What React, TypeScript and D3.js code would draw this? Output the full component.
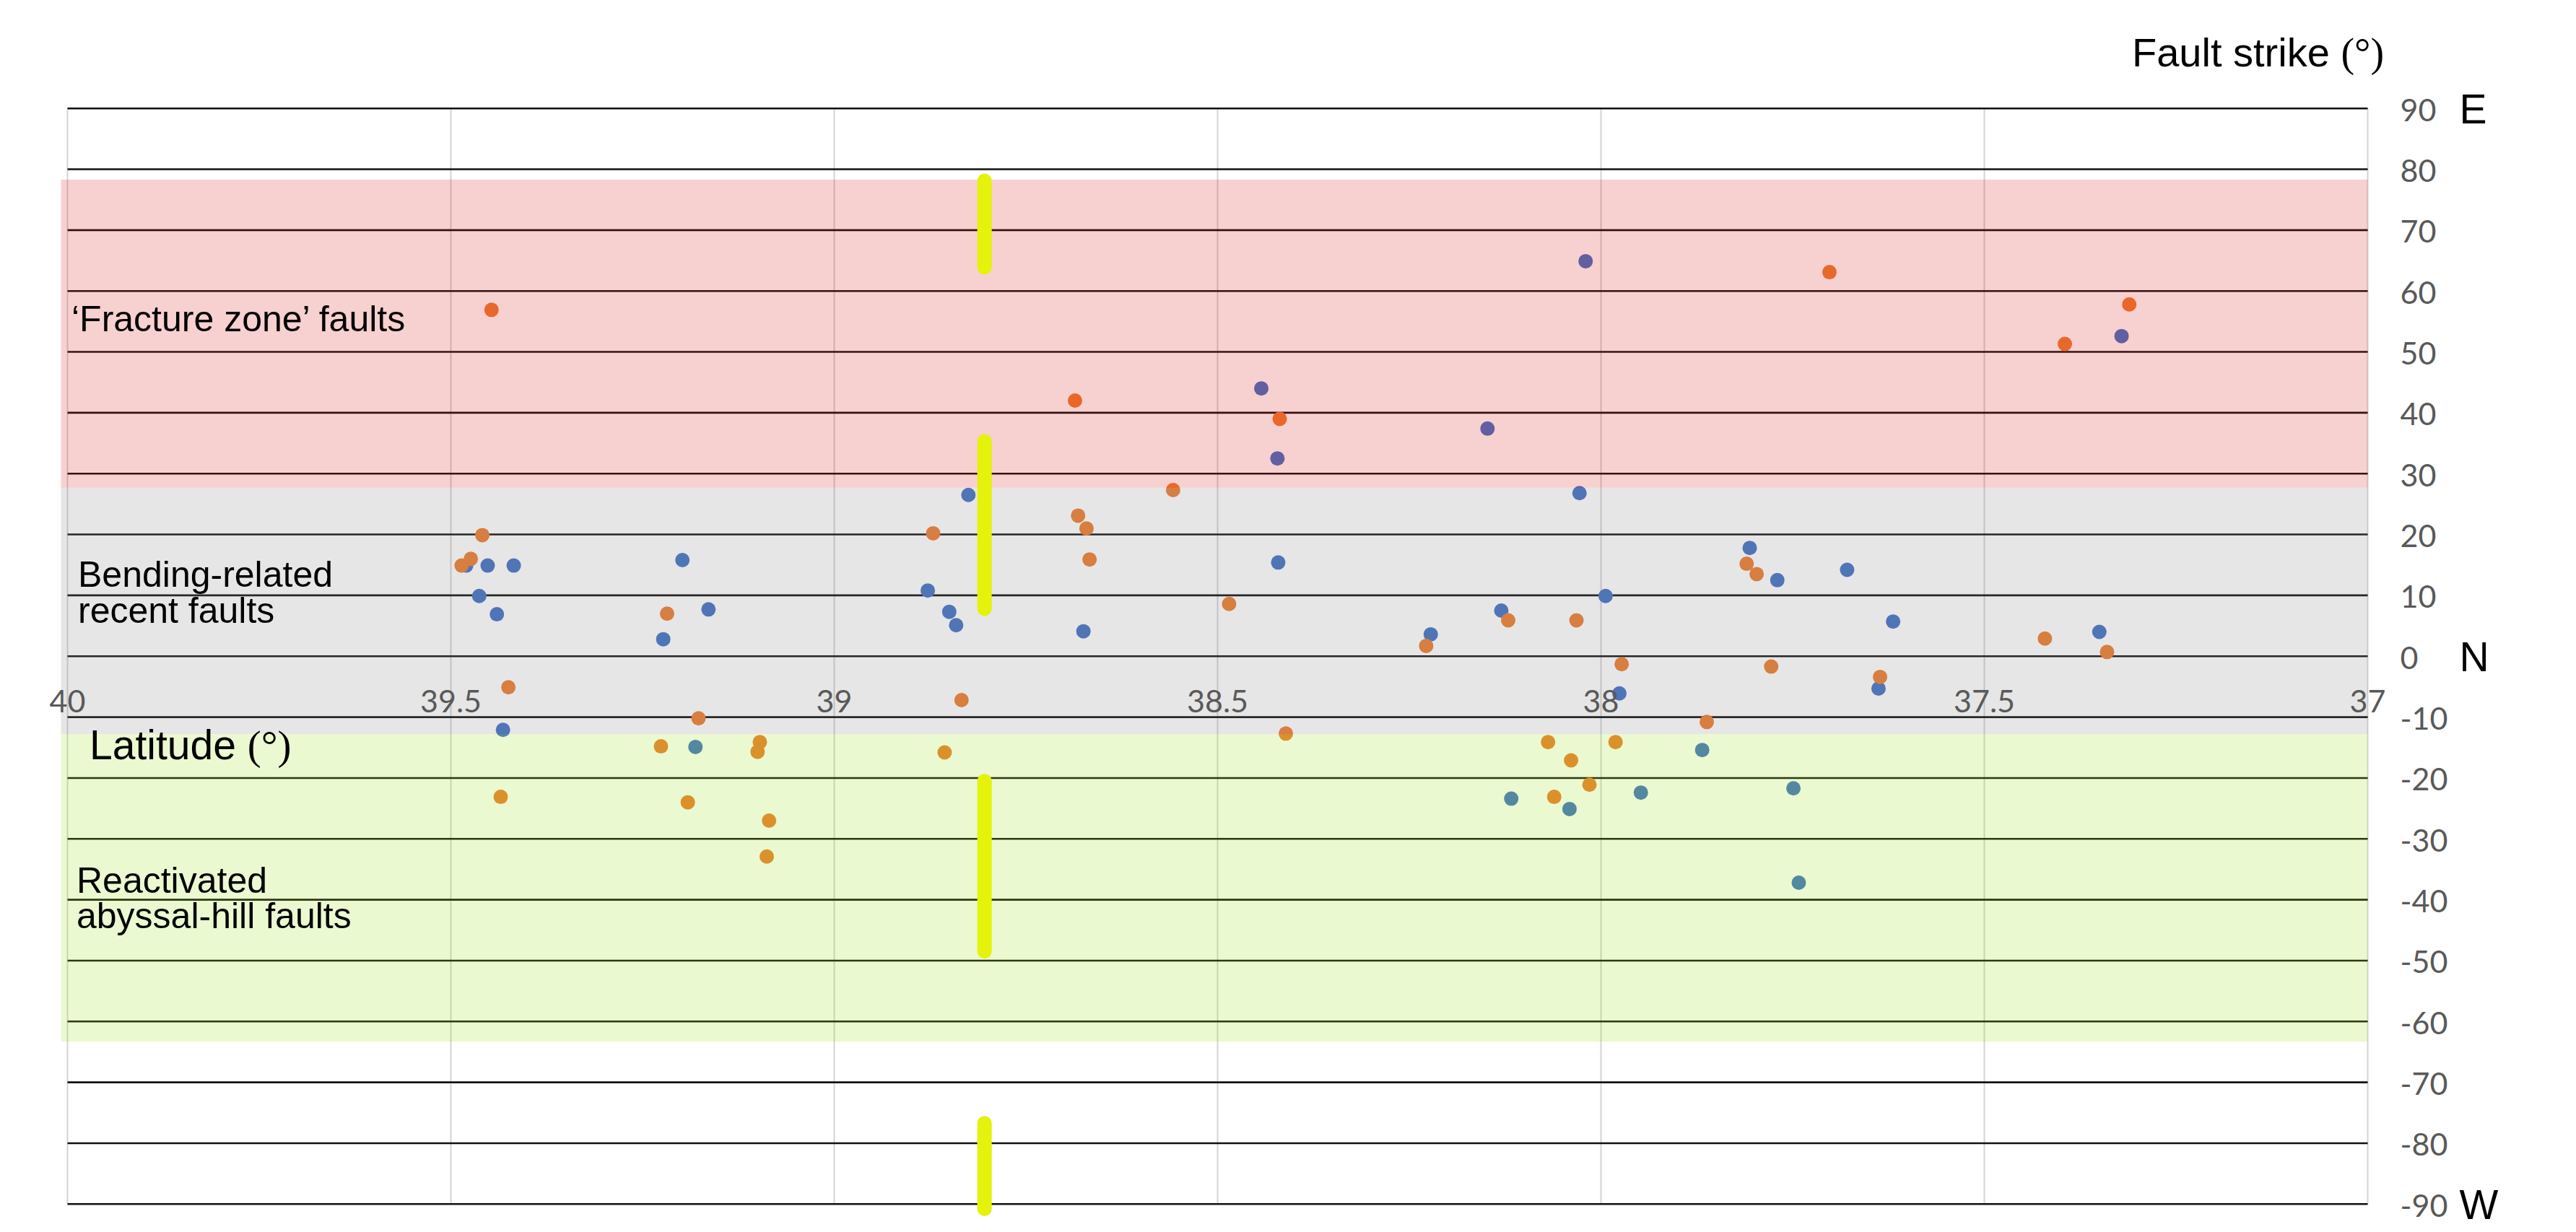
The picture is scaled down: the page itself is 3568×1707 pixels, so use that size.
import React, { useEffect } from 'react';
import * as d3 from 'd3';

// ---------- data ----------
const latTicks = [40, 39.5, 39, 38.5, 38, 37.5, 37];
const strikeTicks = [90, 80, 70, 60, 50, 40, 30, 20, 10, 0, -10, -20, -30, -40, -50, -60, -70, -80, -90];
const directionLabels = ['E', 'N', 'W'];
const directionValues = [90, 0, -90];

// series 1 (blue)
const blueLat = [38.020, 38.443, 38.422, 38.148, 37.321, 38.825, 38.028, 39.198, 39.480, 39.452, 39.418, 38.421, 37.806, 37.770, 37.679, 38.878, 39.463, 37.994, 39.164, 39.440, 38.850, 38.130, 38.841, 37.619, 38.675, 38.222, 37.350, 39.223, 37.638, 37.976, 39.432, 39.181, 37.868, 37.948, 37.749, 38.117, 38.041, 37.742];
const blueStrike = [64.9, 44.0, 32.5, 37.4, 52.6, 26.5, 26.8, 15.8, 14.9, 14.9, 14.9, 15.4, 17.8, 12.5, 14.2, 10.8, 9.9, 9.9, 7.7, 6.9, 7.3, 7.5, 5.1, 5.7, 4.1, 3.6, 4.0, 2.8, -5.3, -6.1, -12.1, -14.9, -15.4, -22.4, -21.7, -23.4, -25.1, -37.2];

// series 2 (orange)
const orangeLat = [39.447, 38.686, 38.419, 37.702, 37.311, 37.395, 38.558, 38.682, 38.671, 38.871, 39.459, 38.667, 39.474, 39.486, 37.810, 37.797, 38.485, 39.218, 38.121, 38.032, 38.228, 37.421, 37.340, 37.973, 37.778, 37.636, 39.425, 38.834, 39.177, 37.862, 38.411, 39.226, 39.097, 39.100, 38.856, 38.069, 37.981, 38.039, 38.015, 38.061, 39.435, 39.191, 39.085, 39.088];
const orangeStrike = [56.9, 42.0, 39.0, 63.1, 57.8, 51.3, 27.3, 23.1, 21.0, 20.2, 19.9, 15.9, 16.0, 14.9, 15.2, 13.5, 8.6, 7.0, 5.9, 5.9, 1.7, 2.9, 0.7, -1.3, -1.7, -3.4, -5.1, -7.2, -10.2, -10.8, -12.7, -14.8, -14.1, -15.7, -15.8, -14.1, -14.1, -17.1, -21.1, -23.1, -23.1, -24.0, -27.0, -32.9];

// shaded strike ranges (top, bottom) and their names
const bandTop = [78.3, 27.7, -12.8];
const bandBottom = [27.7, -12.8, -63.3];
const bandNames = ['fracture', 'bending', 'abyssal'];

// yellow marker at a latitude, strike segments
const markerLat = 38.804;
const markerFrom = [78.1, 35.3, -20.5, -76.7];
const markerTo = [63.9, 7.8, -48.5, -90.8];

// ---------- layout ----------
const W = 3568;
const H = 1707;
const x = d3.scaleLinear().domain([40, 37]).range([93.5, 3279.5]);
const y = d3.scaleLinear().domain([90, -90]).range([150.2, 1668.3]);

const bandFill: Record<string, string> = {
  fracture: 'rgb(215,20,20)',
  bending: 'rgb(128,128,128)',
  abyssal: 'rgb(150,225,20)',
};

const ARIAL = '"Liberation Sans", Arial, sans-serif';
const SERIF = '"Liberation Serif", "Times New Roman", serif';
const TICKFONT = 'Lato, "Open Sans", sans-serif';

export default function App() {
  useEffect(() => {
    document.body.style.margin = '0';
  }, []);

  const [x0, x1] = x.range();
  const yTop = y(90);
  const yBot = y(-90);

  return (
    <div style={{ position: 'absolute', left: 0, top: 0 }}>
      <svg width={W} height={H} viewBox={`0 0 ${W} ${H}`} style={{ display: 'block', background: '#fff' }}>
        {/* vertical gridlines */}
        {latTicks.map((t) => (
          <line key={'v' + t} x1={x(t)} x2={x(t)} y1={yTop} y2={yBot} stroke="#d4d4d4" strokeWidth={2} />
        ))}
        {/* horizontal gridlines */}
        {strikeTicks.map((v) => (
          <line key={'h' + v} x1={x0} x2={x1} y1={y(v)} y2={y(v)} stroke="#111" strokeWidth={2.6} />
        ))}

        {/* points */}
        {blueLat.map((la, i) => (
          <circle key={'b' + i} cx={x(la)} cy={y(blueStrike[i])} r={10} fill="#4472C4" />
        ))}
        {orangeLat.map((la, i) => (
          <circle key={'o' + i} cx={x(la)} cy={y(orangeStrike[i])} r={10} fill="#ED7D31" />
        ))}

        {/* translucent bands on top */}
        {bandNames.map((n, i) => (
          <rect
            key={n}
            x={x0 - 9}
            width={x1 - x0 + 9}
            y={y(bandTop[i])}
            height={y(bandBottom[i]) - y(bandTop[i])}
            fill={bandFill[n]}
            fillOpacity={0.2}
          />
        ))}

        {/* yellow markers */}
        {markerFrom.map((f, i) => (
          <line
            key={'m' + i}
            x1={x(markerLat)}
            x2={x(markerLat)}
            y1={y(f)}
            y2={y(markerTo[i])}
            stroke="#e4f20c"
            strokeWidth={20}
            strokeLinecap="round"
          />
        ))}

        {/* x tick labels */}
        {latTicks.map((t) => (
          <text
            key={'xt' + t}
            x={x(t)}
            y={y(-10) - 7}
            textAnchor="middle"
            fontFamily={TICKFONT}
            fontSize={43}
            fill="#595959"
          >
            {String(t)}
          </text>
        ))}

        {/* y tick labels (right) */}
        {strikeTicks.map((v) => (
          <text
            key={'yt' + v}
            x={x1 + 45}
            y={y(v) + 1}
            dominantBaseline="central"
            fontFamily={TICKFONT}
            fontSize={43}
            fill="#595959"
          >
            {String(v)}
          </text>
        ))}

        {/* direction letters */}
        {directionLabels.map((d, i) => (
          <text
            key={d}
            x={x1 + 127}
            y={y(directionValues[i]) + 21}
            fontFamily={ARIAL}
            fontSize={57}
            fill="#000"
          >
            {d}
          </text>
        ))}

        {/* axis titles */}
        <text x={2953} y={92} fontFamily={ARIAL} fontSize={56} fill="#000">
          Fault strike <tspan fontFamily={SERIF}>(°)</tspan>
        </text>
        <text x={124} y={1052} fontFamily={ARIAL} fontSize={57} fill="#000">
          Latitude <tspan fontFamily={SERIF}>(°)</tspan>
        </text>

        {/* band annotations */}
        <text x={99} y={459} fontFamily={ARIAL} fontSize={50} fill="#000">
          ‘Fracture zone’ faults
        </text>
        <text x={108} y={813} fontFamily={ARIAL} fontSize={50} fill="#000">
          Bending-related
        </text>
        <text x={108} y={863} fontFamily={ARIAL} fontSize={50} fill="#000">
          recent faults
        </text>
        <text x={106} y={1237} fontFamily={ARIAL} fontSize={50} fill="#000">
          Reactivated
        </text>
        <text x={106} y={1286} fontFamily={ARIAL} fontSize={50} fill="#000">
          abyssal-hill faults
        </text>
      </svg>
    </div>
  );
}
